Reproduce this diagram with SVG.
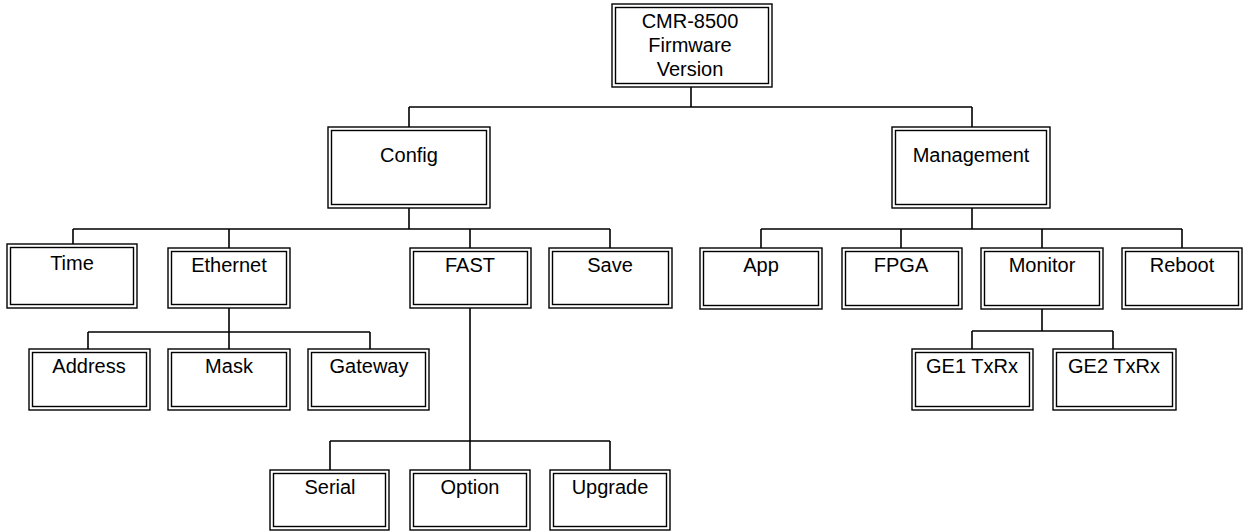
<svg xmlns="http://www.w3.org/2000/svg" width="1244" height="531" viewBox="0 0 1244 531">
<style>
.o{fill:#fff;stroke:#000;stroke-width:1.4}
.i{fill:none;stroke:#000;stroke-width:1.4}
.c{fill:none;stroke:#000;stroke-width:1.6}
text{font-family:"Liberation Sans",Arial,sans-serif;font-size:20px;fill:#000;text-anchor:middle}
</style>
<rect width="1244" height="531" fill="#fff"/>
<g id="connectors">
<path class="c" d="M691 87V107M409 107H972M409 107V127M972 107V127"/>
<path class="c" d="M409 208V229M73 229H610M73 229V244M229 229V248M470 229V248M610 229V248"/>
<path class="c" d="M229 308V332M88 332H370M88 332V349M229 332V349M370 332V349"/>
<path class="c" d="M470 308V441M330 441H610M330 441V470M470 441V470M610 441V470"/>
<path class="c" d="M972 208V229M761 229H1182M761 229V248M901 229V248M1042 229V248M1182 229V248"/>
<path class="c" d="M1042 309V331M972 331H1113M972 331V349M1113 331V349"/>
</g>
<g id="root"><rect class="o" x="612" y="4" width="160" height="83"/><rect class="i" x="615.5" y="7.5" width="153" height="76"/><text x="690" y="28">CMR-8500</text><text x="690" y="52">Firmware</text><text x="690" y="76">Version</text></g>
<g id="config"><rect class="o" x="328" y="127" width="162" height="81"/><rect class="i" x="331.5" y="130.5" width="155" height="74"/><text x="409" y="162">Config</text></g>
<g id="management"><rect class="o" x="892" y="127" width="158" height="81"/><rect class="i" x="895.5" y="130.5" width="151" height="74"/><text x="971" y="162">Management</text></g>
<g id="time"><rect class="o" x="7" y="244" width="130" height="64"/><rect class="i" x="10.5" y="247.5" width="123" height="57"/><text x="72" y="270">Time</text></g>
<g id="ethernet"><rect class="o" x="168" y="248" width="122" height="60"/><rect class="i" x="171.5" y="251.5" width="115" height="53"/><text x="229" y="272">Ethernet</text></g>
<g id="fast"><rect class="o" x="410" y="248" width="121" height="60"/><rect class="i" x="413.5" y="251.5" width="114" height="53"/><text x="470" y="272">FAST</text></g>
<g id="save"><rect class="o" x="549" y="248" width="123" height="60"/><rect class="i" x="552.5" y="251.5" width="116" height="53"/><text x="610" y="272">Save</text></g>
<g id="app"><rect class="o" x="700" y="248" width="122" height="61"/><rect class="i" x="703.5" y="251.5" width="115" height="54"/><text x="761" y="272">App</text></g>
<g id="fpga"><rect class="o" x="842" y="248" width="120" height="61"/><rect class="i" x="845.5" y="251.5" width="113" height="54"/><text x="901" y="272">FPGA</text></g>
<g id="monitor"><rect class="o" x="981" y="248" width="122" height="61"/><rect class="i" x="984.5" y="251.5" width="115" height="54"/><text x="1042" y="272">Monitor</text></g>
<g id="reboot"><rect class="o" x="1122" y="248" width="120" height="61"/><rect class="i" x="1125.5" y="251.5" width="113" height="54"/><text x="1182" y="272">Reboot</text></g>
<g id="address"><rect class="o" x="29" y="349" width="121" height="61"/><rect class="i" x="32.5" y="352.5" width="114" height="54"/><text x="89" y="373">Address</text></g>
<g id="mask"><rect class="o" x="168" y="349" width="122" height="61"/><rect class="i" x="171.5" y="352.5" width="115" height="54"/><text x="229" y="373">Mask</text></g>
<g id="gateway"><rect class="o" x="308" y="349" width="121" height="61"/><rect class="i" x="311.5" y="352.5" width="114" height="54"/><text x="369" y="373">Gateway</text></g>
<g id="ge1"><rect class="o" x="912" y="349" width="121" height="61"/><rect class="i" x="915.5" y="352.5" width="114" height="54"/><text x="972" y="373">GE1 TxRx</text></g>
<g id="ge2"><rect class="o" x="1053" y="349" width="123" height="61"/><rect class="i" x="1056.5" y="352.5" width="116" height="54"/><text x="1114" y="373">GE2 TxRx</text></g>
<g id="serial"><rect class="o" x="270" y="470" width="119" height="60"/><rect class="i" x="273.5" y="473.5" width="112" height="53"/><text x="330" y="494">Serial</text></g>
<g id="option"><rect class="o" x="410" y="470" width="120" height="60"/><rect class="i" x="413.5" y="473.5" width="113" height="53"/><text x="470" y="494">Option</text></g>
<g id="upgrade"><rect class="o" x="550" y="470" width="120" height="60"/><rect class="i" x="553.5" y="473.5" width="113" height="53"/><text x="610" y="494">Upgrade</text></g>
</svg>
